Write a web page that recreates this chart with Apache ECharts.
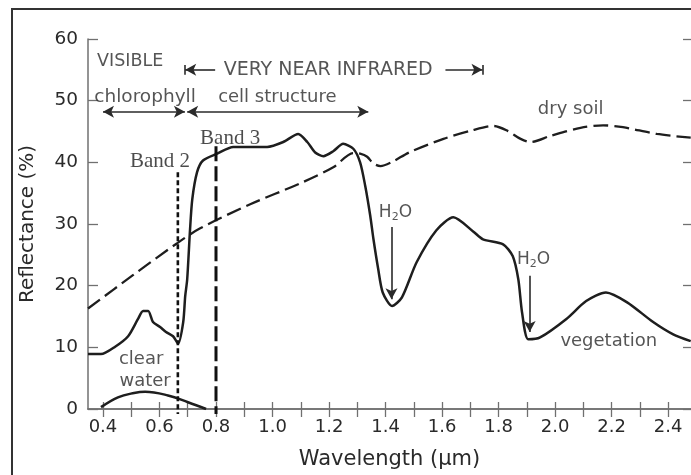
<!DOCTYPE html>
<html>
<head>
<meta charset="utf-8">
<script src="https://cdn.jsdelivr.net/npm/echarts@6/dist/echarts.min.js"></script>
<style>
  html, body { margin: 0; padding: 0; background: #fff; }
  #chart { width: 691px; height: 475px; }
</style>
</head>
<body>
<div id="chart"></div>
<script>
// Wavelength axis (µm): tick marks every 0.1, labels every 0.2
const wavelengthTicks = [0.4,0.5,0.6,0.7,0.8,0.9,1.0,1.1,1.2,1.3,1.4,1.5,1.6,1.7,1.8,1.9,2.0,2.1,2.2,2.3,2.4];
const wavelengthLabels = [0.4,0.6,0.8,1.0,1.2,1.4,1.6,1.8,2.0,2.2,2.4];
const reflectanceTicks = [0,10,20,30,40,50,60];

// Spectral reflectance curves: [wavelength µm, reflectance %]
const vegetation = [
  [0.347,8.9],[0.393,8.9],[0.443,10.1],[0.489,11.8],[0.524,14.6],[0.542,15.9],[0.56,15.9],
  [0.577,14.1],[0.602,13.3],[0.623,12.5],[0.648,11.8],[0.666,10.6],[0.684,14.1],[0.691,18.3],
  [0.698,21],[0.708,29],[0.716,34],[0.733,38.4],[0.754,40.3],[0.804,41.4],[0.861,42.5],
  [0.981,42.5],[1.038,43.3],[1.091,44.6],[1.123,43.3],[1.151,41.6],[1.18,41.0],[1.215,41.8],
  [1.25,43.0],[1.286,42.2],[1.31,40.0],[1.328,36.2],[1.346,31.3],[1.357,27.6],[1.374,22.7],
  [1.39,18.9],[1.423,16.7],[1.458,18.1],[1.51,23.8],[1.58,29],[1.64,31.1],[1.71,28.8],
  [1.745,27.5],[1.816,26.7],[1.85,24.8],[1.87,21],[1.883,15.7],[1.905,11.3],[1.947,11.6],
  [2.04,14.6],[2.11,17.5],[2.18,18.9],[2.255,17.3],[2.347,14.1],[2.418,12.1],[2.48,11.0]
];
const drySoil = [
  [0.347,16.3],[0.506,21.7],[0.66,26.8],[0.744,29.3],[0.921,33.2],[1.098,36.6],
  [1.215,39.2],[1.286,41.5],[1.31,41.4],[1.335,40.9],[1.357,39.8],[1.382,39.4],[1.42,40.0],
  [1.488,41.7],[1.605,43.8],[1.70,45.1],[1.782,45.9],[1.832,45.1],[1.878,43.8],[1.913,43.3],
  [1.984,44.3],[2.09,45.6],[2.17,46.0],[2.24,45.7],[2.36,44.6],[2.48,44.0]
];
const clearWater = [
  [0.393,0.3],[0.453,1.9],[0.51,2.6],[0.549,2.8],[0.63,2.2],[0.701,1.1],[0.765,0]
];

// Sensor band centres (µm) and the reflectance span of their marker lines
const band2 = { name: 'Band 2', wavelength: 0.665, span: [38.4, -0.8] };
const band3 = { name: 'Band 3', wavelength: 0.80, span: [42.6, -0.8] };

// Spectral regions (µm)
const chlorophyllSpan = [0.40, 0.69];
const cellStructureSpan = [0.698, 1.339];
const nearInfraredSpan = [0.691, 1.743];

// Water absorption troughs: wavelength, arrow start/end reflectance, label anchor
const absorption = [
  { x: 1.421, from: 29.5, to: 17.8, label: [1.435, 31.9] },
  { x: 1.910, from: 21.6, to: 12.5, label: [1.924, 24.3] }
];

// Text labels anchored in data coordinates, with their font size
const regionLabels = [
  ['VISIBLE', 0.496, 56.3, 17.5],
  ['VERY NEAR INFRARED', 1.197, 55.0, 19],
  ['chlorophyll', 0.549, 50.6, 18.5],
  ['cell structure', 1.017, 50.6, 18],
  ['dry soil', 2.055, 48.6, 18],
  ['vegetation', 2.19, 11.0, 18],
  ['clear', 0.535, 8.1, 18],
  ['water', 0.549, 4.5, 18]
];
const bandLabels = [
  ['Band 2', 0.602, 40.2],
  ['Band 3', 0.850, 43.8]
];

const X_MIN = 0.347, X_MAX = 2.481;
const SANS = 'DejaVu Sans';
const INK = '#1e1e1e';
const TEXT = '#2a2a2a';
const AXIS = '#707070';

const chart = echarts.init(document.getElementById('chart'), null, { renderer: 'canvas' });

const regionY = 55.0, regionRowY = 48.2;
const arrowLines = [
  // VERY NEAR INFRARED |<-- ... -->|
  [{ coord: [0.797, regionY], symbol: 'none' }, { coord: [nearInfraredSpan[0], regionY], symbol: 'arrow' }],
  [{ coord: [1.612, regionY], symbol: 'none' }, { coord: [nearInfraredSpan[1], regionY], symbol: 'arrow' }],
  [{ coord: [nearInfraredSpan[0], regionY + 0.8], symbol: 'none' }, { coord: [nearInfraredSpan[0], regionY - 0.8], symbol: 'none' }],
  [{ coord: [nearInfraredSpan[1], regionY + 0.8], symbol: 'none' }, { coord: [nearInfraredSpan[1], regionY - 0.8], symbol: 'none' }],
  // chlorophyll / cell structure ranges
  [{ coord: [chlorophyllSpan[0], regionRowY], symbol: 'arrow' }, { coord: [chlorophyllSpan[1], regionRowY], symbol: 'arrow' }],
  [{ coord: [cellStructureSpan[0], regionRowY], symbol: 'arrow' }, { coord: [cellStructureSpan[1], regionRowY], symbol: 'arrow' }]
].concat(absorption.map(a => [
  { coord: [a.x, a.from], symbol: 'none' },
  { coord: [a.x, a.to], symbol: 'arrow' }
]));

const labelData = regionLabels.map(([t, x, y, fs]) => ({
  value: [x, y],
  label: { formatter: t, fontFamily: SANS, fontSize: fs, color: TEXT }
})).concat(bandLabels.map(([t, x, y]) => ({
  value: [x, y],
  label: { formatter: t, fontFamily: 'Liberation Serif', fontSize: 21, color: INK }
}))).concat(absorption.map(a => ({
  value: a.label,
  label: {
    formatter: '{n|H}{s|2}{n|O}',
    rich: {
      n: { fontFamily: SANS, fontSize: 17, color: TEXT, lineHeight: 22 },
      s: { fontFamily: SANS, fontSize: 11, color: TEXT, lineHeight: 22, padding: [9, 0, 0, 0] }
    }
  }
})));

const option = {
  animation: false,
  backgroundColor: '#fff',
  grid: { left: 88, right: 0, top: 39, bottom: 65 },
  xAxis: [
    {
      type: 'value', min: X_MIN, max: X_MAX, position: 'bottom',
      name: 'Wavelength (μm)', nameLocation: 'middle', nameGap: 40,
      nameTextStyle: { fontFamily: SANS, fontSize: 21, color: TEXT },
      axisLine: { show: true, lineStyle: { color: AXIS, width: 1.5 } },
      axisTick: { show: true, inside: true, length: 7, customValues: wavelengthTicks, lineStyle: { color: AXIS, width: 1.3 } },
      axisLabel: {
        show: true, customValues: wavelengthLabels, margin: 9,
        formatter: v => v.toFixed(1), fontFamily: SANS, fontSize: 18, color: TEXT
      },
      splitLine: { show: false }
    },
    {
      type: 'value', min: X_MIN, max: X_MAX, position: 'top',
      axisLine: { show: true, lineStyle: { color: AXIS, width: 1.5 } },
      axisTick: { show: true, inside: true, length: 8, customValues: wavelengthTicks, lineStyle: { color: AXIS, width: 1.3 } },
      axisLabel: { show: false },
      splitLine: { show: false }
    }
  ],
  yAxis: [
    {
      type: 'value', min: 0, max: 60, position: 'left',
      name: 'Reflectance (%)', nameLocation: 'middle', nameGap: 50,
      nameTextStyle: { fontFamily: SANS, fontSize: 20, color: TEXT },
      axisLine: { show: true, lineStyle: { color: AXIS, width: 1.5 } },
      axisTick: { show: true, inside: true, length: 10, customValues: reflectanceTicks, lineStyle: { color: AXIS, width: 1.3 } },
      axisLabel: {
        show: true, customValues: reflectanceTicks, margin: 10,
        fontFamily: SANS, fontSize: 18.5, color: TEXT
      },
      splitLine: { show: false }
    },
    {
      type: 'value', min: 0, max: 60, position: 'right',
      axisLine: { show: false },
      axisTick: { show: true, inside: true, length: 8, customValues: reflectanceTicks, lineStyle: { color: AXIS, width: 1.3 } },
      axisLabel: { show: false },
      splitLine: { show: false }
    }
  ],
  graphic: [
    {
      type: 'rect', silent: true, z: 100,
      shape: { x: 12, y: 9, width: 700, height: 500 },
      style: { fill: 'none', stroke: '#333', lineWidth: 2 }
    }
  ],
  series: [
    {
      name: 'vegetation', type: 'line', data: vegetation, smooth: 0.25,
      showSymbol: false, silent: true,
      lineStyle: { color: INK, width: 2.5 }
    },
    {
      name: 'dry soil', type: 'line', data: drySoil, smooth: 0.3,
      showSymbol: false, silent: true,
      lineStyle: { color: INK, width: 2.3, type: [15, 6] }
    },
    {
      name: 'clear water', type: 'line', data: clearWater, smooth: 0.4,
      showSymbol: false, silent: true,
      lineStyle: { color: INK, width: 2.5 }
    },
    {
      name: band2.name, type: 'line', clip: false, showSymbol: false, silent: true,
      data: band2.span.map(r => [band2.wavelength, r]),
      lineStyle: { color: '#111', width: 2.6, type: [5, 3] }
    },
    {
      name: band3.name, type: 'line', clip: false, showSymbol: false, silent: true,
      data: band3.span.map(r => [band3.wavelength, r]),
      lineStyle: { color: '#111', width: 3, type: [15, 5] }
    },
    {
      name: 'annotations', type: 'scatter', data: labelData, clip: false, silent: true,
      symbolSize: 1, itemStyle: { color: 'rgba(0,0,0,0)' },
      label: { show: true, position: 'inside', align: 'center', verticalAlign: 'middle' },
      markLine: {
        silent: true, symbolSize: [9, 11], precision: 3,
        label: { show: false },
        lineStyle: { color: '#2a2a2a', width: 1.6, type: 'solid' },
        emphasis: { disabled: true },
        data: arrowLines
      }
    }
  ]
};

chart.setOption(option);
</script>
</body>
</html>
